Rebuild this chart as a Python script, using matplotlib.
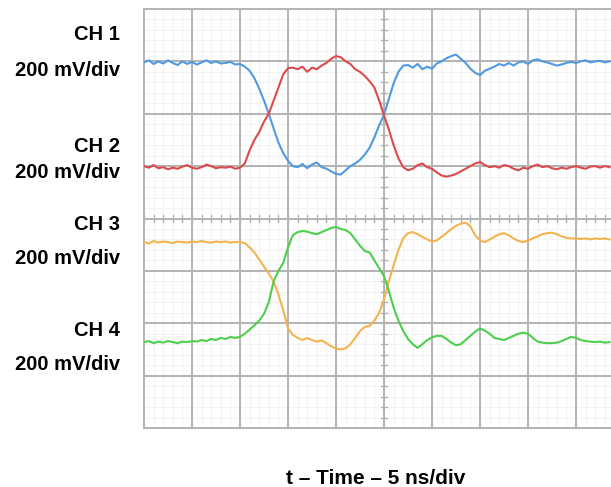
import numpy as np
import matplotlib
matplotlib.use("Agg")
import matplotlib.pyplot as plt

plt.rcParams['font.family'] = ['Liberation Sans', 'DejaVu Sans']

# time base in divisions (5 ns/div), sampled every 0.1 div
t_div = np.arange(98) / 10.0

ch1 = [6.98, 7.02, 6.95, 7.0, 6.96, 7.02, 6.97, 6.93, 7.0, 6.95,
       6.99, 6.94, 6.98, 7.02, 6.97, 7.0, 6.96, 6.97, 6.99, 6.94,
       6.95, 6.9, 6.82, 6.68, 6.48, 6.25, 6.0, 5.72, 5.45, 5.25,
       5.1, 5.0, 4.98, 5.04, 4.96, 5.03, 5.07, 4.98, 4.95, 4.9,
       4.85, 4.84, 4.92, 5.0, 5.05, 5.12, 5.22, 5.35, 5.55, 5.78,
       5.98, 6.28, 6.58, 6.8, 6.92, 6.93, 6.88, 6.95, 6.85, 6.9,
       6.86, 6.96, 7.0, 7.06, 7.1, 7.13, 7.05, 6.97, 6.86, 6.78,
       6.74, 6.82, 6.86, 6.9, 6.95, 6.92, 6.97, 6.92, 6.98, 7.0,
       6.95, 7.02, 7.04, 7.0, 6.98, 6.95, 6.92, 6.94, 6.97, 6.99,
       6.97, 7.0, 7.02, 6.98, 7.0, 7.01, 6.98, 7.0]

ch2 = [5.0, 4.97, 5.02, 4.96, 4.98, 4.94, 4.97, 4.95, 4.99, 5.02,
       4.97, 4.95, 4.98, 5.03, 5.0, 4.96, 4.98, 4.97, 4.99, 4.95,
       4.97, 5.05, 5.3, 5.5, 5.65, 5.85, 6.0, 6.25, 6.5, 6.75,
       6.87, 6.88, 6.85, 6.9, 6.8, 6.88, 6.85, 6.92, 6.97, 7.05,
       7.1, 7.08, 7.0, 6.95, 6.85, 6.8, 6.72, 6.62, 6.5, 6.25,
       5.97, 5.7, 5.4, 5.15, 4.98, 4.92, 4.95, 5.02, 5.05, 4.98,
       4.95, 4.88, 4.82, 4.8, 4.82, 4.85, 4.9, 4.95, 5.0, 5.05,
       5.08, 5.02, 4.98, 5.0, 4.97, 5.02, 5.0, 4.95, 4.92, 4.97,
       4.95, 5.0, 5.03, 4.98, 5.0, 4.96, 4.94, 4.97, 4.95, 4.98,
       5.0, 4.97, 4.95, 4.99, 5.0, 4.97, 5.0, 4.98]

ch3 = [3.55, 3.52, 3.57, 3.54, 3.56, 3.55, 3.53, 3.56, 3.55, 3.54,
       3.56, 3.55, 3.57, 3.55, 3.54, 3.56, 3.55, 3.56, 3.54, 3.55,
       3.55, 3.53, 3.45, 3.35, 3.22, 3.08, 2.95, 2.8, 2.55, 2.25,
       1.9, 1.78, 1.72, 1.68, 1.72, 1.68, 1.65, 1.67, 1.62, 1.56,
       1.52, 1.5, 1.52, 1.6, 1.72, 1.85, 1.93, 1.95, 2.05, 2.2,
       2.45, 2.8, 3.1, 3.4, 3.62, 3.72, 3.74, 3.7, 3.65, 3.6,
       3.56, 3.58, 3.65, 3.72, 3.8, 3.86, 3.9, 3.92, 3.85, 3.68,
       3.58, 3.55, 3.6, 3.65, 3.7, 3.72, 3.68, 3.62, 3.57, 3.55,
       3.58, 3.62, 3.66, 3.7, 3.72, 3.73, 3.7, 3.66, 3.63, 3.62,
       3.62, 3.61, 3.62, 3.6, 3.62, 3.61, 3.62, 3.6]

ch4 = [1.64, 1.66, 1.62, 1.65, 1.63, 1.66, 1.64, 1.62, 1.65, 1.64,
       1.66, 1.65, 1.68, 1.66, 1.7, 1.68, 1.72, 1.7, 1.74, 1.72,
       1.74, 1.8, 1.88, 1.96, 2.05, 2.18, 2.4, 2.8, 3.0, 3.15,
       3.45, 3.68, 3.74, 3.76, 3.75, 3.72, 3.7, 3.74, 3.78, 3.82,
       3.84, 3.8, 3.78, 3.72, 3.6, 3.48, 3.38, 3.35, 3.2, 3.05,
       2.9, 2.62, 2.3, 2.05, 1.85, 1.7, 1.6, 1.53, 1.6, 1.68,
       1.73, 1.76, 1.76, 1.7, 1.63, 1.58, 1.6, 1.68, 1.76, 1.84,
       1.9, 1.86, 1.8, 1.72, 1.7, 1.68, 1.72, 1.76, 1.8, 1.82,
       1.8, 1.72, 1.65, 1.63, 1.62, 1.62, 1.63, 1.66, 1.7, 1.74,
       1.72, 1.68, 1.66, 1.65, 1.64, 1.65, 1.63, 1.64]

channel_labels = ["CH 1", "CH 2", "CH 3", "CH 4"]
scale_label = "200 mV/div"
x_label = "t \u2013 Time \u2013 5 ns/div"

W, H = 611, 487
fig = plt.figure(figsize=(W / 100, H / 100), dpi=100)
left_px, top_px, bottom_px = 144, 9, 428
div_px = 48.0
ax = fig.add_axes([left_px / W, 1 - bottom_px / H, (W - left_px) / W, (bottom_px - top_px) / H])
ax.set_xlim(0, (W - left_px) / div_px)
ax.set_ylim(0, 8)

grid_col = "#b3b3b3"
for x in range(1, 10):
    ax.axvline(x, color=grid_col, lw=1.4, zorder=1)
for y in range(1, 8):
    ax.axhline(y, color=grid_col, lw=1.4, zorder=1)
# faint minor grid
for x in np.arange(0.2, 10, 0.2):
    ax.axvline(x, color="#f3f3f3", lw=0.8, zorder=0.5)
for y in np.arange(0.2, 8, 0.2):
    ax.axhline(y, color="#f3f3f3", lw=0.8, zorder=0.5)

# center graticule tick marks
for x in np.arange(0, 9.8, 0.2):
    ax.plot([x, x], [3.94, 4.06], color=grid_col, lw=1.0, zorder=1)
for y in np.arange(0, 8.01, 0.2):
    ax.plot([4.94, 5.06], [y, y], color=grid_col, lw=1.0, zorder=1)

for s in ["left", "top", "bottom"]:
    ax.spines[s].set_color(grid_col)
    ax.spines[s].set_linewidth(1.4)
ax.spines["right"].set_visible(False)
ax.set_xticks([])
ax.set_yticks([])

colors = ["#4f9ae0", "#dc4a4d", "#f4b34f", "#4ccf4c"]
for ys, c in zip([ch1, ch2, ch3, ch4], colors):
    ax.plot(t_div, ys, color=c, lw=1.5, zorder=3)

label_y = [(35, 70), (147, 172), (225, 258), (330, 365)]
for lab, (y1, y2) in zip(channel_labels, label_y):
    fig.text(120 / W, 1 - y1 / H, lab, ha="right", va="center", fontsize=14.5, fontweight="bold")
    fig.text(120 / W, 1 - y2 / H, scale_label, ha="right", va="center", fontsize=14.5, fontweight="bold")

fig.text(376 / W, 1 - 478 / H, x_label, ha="center", va="center", fontsize=15, fontweight="bold")

fig.savefig("out.png", dpi=100)
